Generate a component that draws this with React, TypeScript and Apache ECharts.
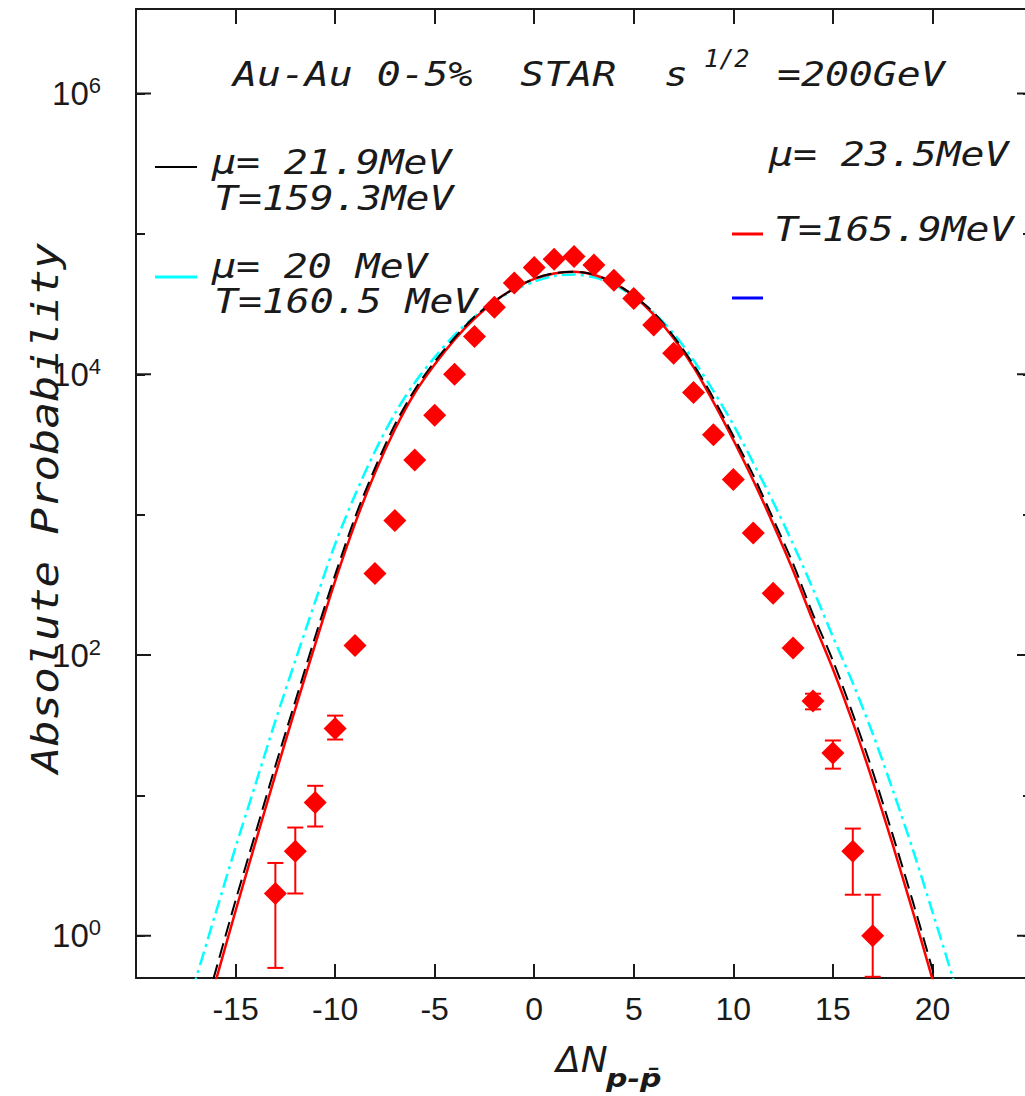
import React, { useEffect, useRef } from "react";
import * as echarts from "echarts";

// ---------- axis ranges / ticks ----------
const xMin = -20;
const xMax = 25;
const xStep = 5;
const yMin = 0.5;
const yMax = 4e6;
const yLabelExps = [0, 2, 4, 6];
const yMajorTicks = [1, 100, 10000, 1000000];

// ---------- STAR data (diamonds) ----------
const dataX = [-13, -12, -11, -10, -9, -8, -7, -6, -5, -4, -3, -2, -1, 0, 1, 2, 3, 4, 5, 6, 7, 8, 9, 10, 11, 12, 13, 14, 15, 16, 17];
const dataY = [2.0, 4.0, 8.9, 30, 117, 380, 910, 2450, 5100, 10000, 18600, 30000, 44700, 57500, 66000, 69000, 60000, 46800, 34700, 22400, 14100, 7400, 3700, 1780, 740, 275, 112, 47, 20, 4.0, 1.0];

// ---------- error bars (only visible ones) ----------
const errX = [-13, -12, -11, -10, 14, 15, 16, 17];
const errLo = [0.59, 2.0, 6.0, 25, 41, 15.5, 1.96, 0.51];
const errHi = [3.3, 5.9, 11.7, 37, 53, 24.6, 5.8, 1.96];

// ---------- model curves ----------
const curveX = [-17, -16, -15, -14, -13, -12, -11, -10, -9, -8, -7, -6, -5, -4, -3, -2, -1, 0, 1, 2, 3, 4, 5, 6, 7, 8, 9, 10, 11, 12, 13, 14, 15, 16, 17, 18, 19, 20, 21];
const redY = [0.148, 0.474, 1.5, 4.63, 14.0, 41.3, 119, 336, 863, 1980, 4040, 7350, 11750, 17660, 24900, 32960, 40930, 47750, 52240, 53700, 51170, 44770, 36060, 26610, 18070, 11270, 6340, 3400, 1750, 855, 400, 175, 79.4, 33.1, 12.6, 4.47, 1.51, 0.49, 0.151];
const blackY = [0.174, 0.562, 1.78, 5.37, 16.2, 46.8, 135, 372, 955, 2140, 4370, 7760, 12300, 18200, 25700, 33100, 40700, 47900, 52500, 53700, 51300, 44700, 36300, 27500, 18600, 11700, 6760, 3630, 1910, 933, 447, 195, 91.2, 38.0, 14.8, 5.25, 1.78, 0.575, 0.178];
const cyanX = [-18, -17, -16, -15, -14, -13, -12, -11, -10, -9, -8, -7, -6, -5, -4, -3, -2, -1, 0, 1, 2, 3, 4, 5, 6, 7, 8, 9, 10, 11, 12, 13, 14, 15, 16, 17, 18, 19, 20, 21, 22];
const cyanY = [0.174, 0.49, 1.45, 4.27, 12.0, 33.9, 91.2, 240, 617, 1380, 2820, 5250, 8710, 13200, 19100, 25700, 33100, 39800, 45700, 50100, 51300, 49000, 43700, 35500, 27500, 19500, 12600, 7590, 4370, 2340, 1230, 617, 295, 135, 63.1, 27.5, 11.0, 4.17, 1.48, 0.513, 0.158];

// ---------- texts ----------
const titleMain = "Au-Au 0-5%  STAR  s";
const titleSup = "1/2";
const titleEnd = "=200GeV";
const legendBlack = ["μ= 21.9MeV", "T=159.3MeV"];
const legendCyan = ["μ= 20 MeV", "T=160.5 MeV"];
const legendRed = ["μ= 23.5MeV", "T=165.9MeV"];
const yTitle = "Absolute Probability";
const xTitleMain = "ΔN";
const xTitleSub = "p-p̄";

const MONO = "'DejaVu Sans Mono', monospace";
const SANS = "'Liberation Sans', Arial, sans-serif";
const INK = "#1a1a1a";
const AXIS = { color: "#1a1a1a", width: 2 };

function monoText(text: string, x: number, y: number, size = 34, scaleX = 1.17) {
  return {
    type: "text",
    x,
    y,
    scaleX,
    silent: true,
    style: {
      text,
      font: `italic ${size}px ${MONO}`,
      fill: INK,
      align: "left",
      verticalAlign: "middle",
      textAlign: "left",
      textVerticalAlign: "middle",
    },
  };
}

function legLine(x1: number, x2: number, y: number, color: string, w: number) {
  return {
    type: "line",
    silent: true,
    shape: { x1, y1: y, x2, y2: y },
    style: { stroke: color, lineWidth: w },
  };
}

function yLabel(v: number) {
  const e = Math.round(Math.log10(v));
  if (Math.abs(v / Math.pow(10, e) - 1) > 1e-6) return "";
  return yLabelExps.includes(e) ? `{b|10}{s|${e}}` : "";
}

function pairs(xs: number[], ys: number[]) {
  return xs.map((x, i) => [x, ys[i]]);
}

export default function App() {
  const ref = useRef<HTMLDivElement>(null);

  useEffect(() => {
    if (!ref.current) return;
    const chart = echarts.init(ref.current, null, { renderer: "svg" });

    const option: any = {
      animation: false,
      backgroundColor: "#fff",
      grid: { left: 136, top: 9, right: 8, bottom: 118, containLabel: false },
      xAxis: [
        {
          type: "value",
          min: xMin,
          max: xMax,
          interval: xStep,
          position: "bottom",
          axisLine: { show: true, onZero: false, lineStyle: AXIS },
          axisTick: { show: true, inside: true, length: 14, lineStyle: AXIS },
          axisLabel: {
            margin: 15,
            fontSize: 32,
            fontFamily: SANS,
            color: INK,
            formatter: (v: number) => (v <= xMin || v >= xMax ? "" : String(v)),
          },
          splitLine: { show: false },
        },
        {
          type: "value",
          min: xMin,
          max: xMax,
          interval: xStep,
          position: "top",
          axisLine: { show: true, onZero: false, lineStyle: AXIS },
          axisTick: { show: true, inside: true, length: 15, lineStyle: AXIS },
          axisLabel: { show: false },
          splitLine: { show: false },
        },
      ],
      yAxis: [
        {
          type: "log",
          logBase: 10,
          min: yMin,
          max: yMax,
          position: "left",
          axisLine: { show: true, onZero: false, lineStyle: AXIS },
          axisTick: { show: true, inside: true, length: 9, lineStyle: AXIS },
          axisLabel: {
            margin: 35,
            color: INK,
            formatter: yLabel,
            rich: {
              b: { fontSize: 33, fontFamily: SANS, color: INK, lineHeight: 38 },
              s: { fontSize: 22, fontFamily: SANS, color: INK, lineHeight: 22, verticalAlign: "top" },
            },
          },
          splitLine: { show: false },
        },
        {
          type: "log",
          logBase: 10,
          min: yMin,
          max: yMax,
          position: "right",
          axisLine: { show: true, onZero: false, lineStyle: AXIS },
          axisTick: { show: true, inside: true, length: 9, lineStyle: AXIS },
          axisLabel: { show: false },
          splitLine: { show: false },
        },
      ],
      series: [
        {
          type: "custom",
          name: "major ticks",
          silent: true,
          clip: false,
          z: 5,
          data: yMajorTicks.map((v) => [xMin, v]),
          encode: { x: 0, y: 1 },
          renderItem: (params: any, api: any) => {
            const p = api.coord([api.value(0), api.value(1)]);
            const cs = params.coordSys;
            return {
              type: "group",
              children: [
                { type: "line", shape: { x1: cs.x, y1: p[1], x2: cs.x + 15, y2: p[1] }, style: { stroke: AXIS.color, lineWidth: 2 } },
                { type: "line", shape: { x1: cs.x + cs.width - 15, y1: p[1], x2: cs.x + cs.width, y2: p[1] }, style: { stroke: AXIS.color, lineWidth: 2 } },
              ],
            };
          },
        },
        {
          type: "line",
          name: "cyan",
          data: pairs(cyanX, cyanY),
          smooth: 0.3,
          showSymbol: false,
          symbol: "none",
          clip: true,
          lineStyle: { color: "#00ffff", width: 2.5, type: [14, 5, 3, 5], opacity: 1 },
        },
        {
          type: "line",
          name: "red",
          data: pairs(curveX, redY),
          smooth: 0.3,
          showSymbol: false,
          symbol: "none",
          clip: true,
          lineStyle: { color: "#ff0000", width: 2.5, opacity: 1 },
        },
        {
          type: "line",
          name: "black",
          data: pairs(curveX, blackY),
          smooth: 0.3,
          showSymbol: false,
          symbol: "none",
          clip: true,
          lineStyle: { color: "#000000", width: 2, type: [15, 7], opacity: 1 },
        },
        {
          type: "custom",
          name: "errors",
          clip: true,
          data: errX.map((x, i) => [x, errLo[i], errHi[i]]),
          encode: { x: 0, y: [1, 2] },
          renderItem: (params: any, api: any) => {
            const x = api.value(0);
            const lo = api.coord([x, api.value(1)]);
            const hi = api.coord([x, api.value(2)]);
            const hw = 8;
            const st = { stroke: "#ff0000", lineWidth: 2 };
            return {
              type: "group",
              children: [
                { type: "line", shape: { x1: lo[0], y1: lo[1], x2: hi[0], y2: hi[1] }, style: st },
                { type: "line", shape: { x1: lo[0] - hw, y1: lo[1], x2: lo[0] + hw, y2: lo[1] }, style: st },
                { type: "line", shape: { x1: hi[0] - hw, y1: hi[1], x2: hi[0] + hw, y2: hi[1] }, style: st },
              ],
            };
          },
        },
        {
          type: "scatter",
          name: "STAR",
          data: pairs(dataX, dataY),
          symbol: "diamond",
          symbolSize: 23,
          itemStyle: { color: "#ff0000", opacity: 1 },
          z: 6,
        },
      ],
      graphic: [
        monoText(titleMain, 233, 75),
        monoText(titleSup, 704, 59, 24, 1.05),
        monoText(titleEnd, 777, 75),
        legLine(155, 197, 167, "#000000", 2),
        monoText(legendBlack[0], 212, 163),
        monoText(legendBlack[1], 214, 199),
        legLine(155, 197, 277, "#00ffff", 3),
        monoText(legendCyan[0], 212, 267),
        monoText(legendCyan[1], 214, 302),
        monoText(legendRed[0], 769, 155),
        legLine(732, 763, 234, "#ff0000", 3),
        monoText(legendRed[1], 774, 230),
        legLine(732, 763, 298, "#0000ff", 3),
        {
          type: "text",
          x: 45,
          y: 508,
          rotation: Math.PI / 2,
          scaleX: 1.16,
          silent: true,
          style: {
            text: yTitle,
            font: `italic 38px ${MONO}`,
            fill: INK,
            align: "center",
            verticalAlign: "middle",
            textAlign: "center",
            textVerticalAlign: "middle",
          },
        },
        {
          type: "text",
          x: 556,
          y: 1059,
          silent: true,
          style: {
            text: xTitleMain,
            font: "italic 36px 'DejaVu Sans', sans-serif",
            fill: INK,
            align: "left",
            verticalAlign: "middle",
            textAlign: "left",
            textVerticalAlign: "middle",
          },
        },
        {
          type: "text",
          x: 606,
          y: 1079,
          scaleX: 1.25,
          silent: true,
          style: {
            text: xTitleSub,
            font: "italic bold 24px 'DejaVu Sans', sans-serif",
            fill: INK,
            align: "left",
            verticalAlign: "middle",
            textAlign: "left",
            textVerticalAlign: "middle",
          },
        },
      ],
    };

    chart.setOption(option);
    return () => chart.dispose();
  }, []);

  return (
    <div
      style={{
        position: "fixed",
        left: 0,
        top: 0,
        width: 1025,
        height: 1096,
        overflow: "hidden",
        background: "#fff",
      }}
    >
      <div ref={ref} style={{ width: 1040, height: 1096 }} />
    </div>
  );
}
